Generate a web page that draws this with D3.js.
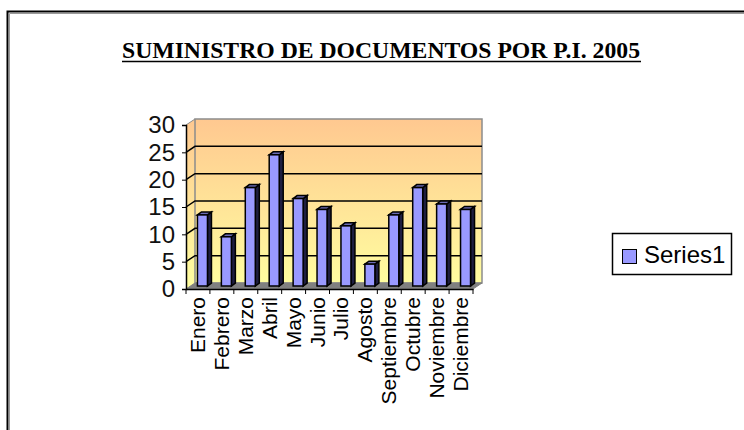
<!DOCTYPE html>
<html>
<head>
<meta charset="utf-8">
<script src="https://cdn.jsdelivr.net/npm/d3@7"></script>
<style>
  body { margin: 0; background: #fff; }
</style>
</head>
<body>
<div id="chart"></div>
<script>
var months = ["Enero", "Febrero", "Marzo", "Abril", "Mayo", "Junio", "Julio",
              "Agosto", "Septiembre", "Octubre", "Noviembre", "Diciembre"]
var series1 = [13, 9, 18, 24, 16, 14, 11, 4, 13, 18, 15, 14]
var yTicks = [0, 5, 10, 15, 20, 25, 30]
var title = "SUMINISTRO DE DOCUMENTOS POR P.I. 2005"
var seriesName = "Series1"

var width = 744, height = 430
var svg = d3.select("#chart").append("svg")
    .attr("width", width)
    .attr("height", height)

// outer chart area border (runs off the right and bottom)
svg.append("rect")
    .attr("x", 7.5).attr("y", 11.5)
    .attr("width", 800).attr("height", 500)
    .attr("fill", "none").attr("stroke", "#000").attr("stroke-width", 2)
svg.append("path")
    .attr("d", "M9.5,500V13.5H800")
    .attr("fill", "none").attr("stroke", "#999")

// title
svg.append("text")
    .attr("x", 381).attr("y", 58)
    .attr("text-anchor", "middle")
    .attr("font-family", "'Liberation Serif', 'Times New Roman', serif")
    .attr("font-weight", "bold")
    .attr("font-size", 23)
    .attr("textLength", 518)
    .attr("lengthAdjust", "spacingAndGlyphs")
    .text(title)
svg.append("line")
    .attr("x1", 122).attr("x2", 641)
    .attr("y1", 61.5).attr("y2", 61.5)
    .attr("stroke", "#000").attr("stroke-width", 1.5)

// scales
var x0 = 186, x1 = 473
var x = d3.scaleBand().domain(months).range([x0, x1])
var y = d3.scaleLinear().domain([0, 30]).range([289, 125])
var dx = 9, dy = -6   // wall depth

var defs = svg.append("defs")
var grad = defs.append("linearGradient")
    .attr("id", "wallGrad")
    .attr("gradientUnits", "userSpaceOnUse")
    .attr("x1", 0).attr("y1", y(30) + dy).attr("x2", 0).attr("y2", y(0))
grad.append("stop").attr("offset", "0%").attr("stop-color", "#ffc890")
grad.append("stop").attr("offset", "100%").attr("stop-color", "#ffffa0")

var g = svg.append("g")

// side wall
g.append("path")
    .attr("d", `M${x0},${y(0)}L${x0},${y(30)}L${x0 + dx},${y(30) + dy}L${x0 + dx},${y(0) + dy}Z`)
    .attr("fill", "url(#wallGrad)")
// back wall
g.append("rect")
    .attr("x", x0 + dx).attr("y", y(30) + dy)
    .attr("width", x1 - x0).attr("height", y(0) - y(30))
    .attr("fill", "url(#wallGrad)")
    .attr("stroke", "#8c8c8c").attr("stroke-width", 1.5)
// gridlines (side + back)
g.selectAll(".grid")
    .data(yTicks.filter(d => d > 0 && d < 30))
    .enter().append("path")
    .attr("class", "grid")
    .attr("d", d => `M${x0},${y(d)}L${x0 + dx},${y(d) + dy}H${x1 + dx}`)
    .attr("fill", "none").attr("stroke", "#000").attr("stroke-width", 1.5)
// wall top edge on side
g.append("line")
    .attr("x1", x0).attr("y1", y(30)).attr("x2", x0 + dx).attr("y2", y(30) + dy)
    .attr("stroke", "#8c8c8c")
// floor
g.append("path")
    .attr("d", `M${x0},${y(0)}L${x1},${y(0)}L${x1 + dx},${y(0) + dy}L${x0 + dx},${y(0) + dy}Z`)
    .attr("fill", "#808080").attr("stroke", "#808080")

// bars
var barW = 10, bd = 4, bdy = -3
var bars = g.selectAll(".bar")
    .data(months.map((m, i) => ({ m: m, v: series1[i] })))
    .enter().append("g")
    .attr("class", "bar")
    .attr("transform", d => `translate(${x(d.m) + x.bandwidth() / 2 + dx / 2 - barW / 2},${dy / 2})`)

bars.append("path") // right side
    .attr("d", d => `M${barW},${y(0)}L${barW},${y(d.v)}L${barW + bd},${y(d.v) + bdy}L${barW + bd},${y(0) + bdy}Z`)
    .attr("fill", "#1e1e40").attr("stroke", "#000").attr("stroke-width", 1.5)
bars.append("path") // top
    .attr("d", d => `M0,${y(d.v)}L${bd},${y(d.v) + bdy}L${barW + bd},${y(d.v) + bdy}L${barW},${y(d.v)}Z`)
    .attr("fill", "#6a6ab5").attr("stroke", "#000").attr("stroke-width", 1.5)
bars.append("rect") // front
    .attr("x", 0).attr("y", d => y(d.v))
    .attr("width", barW).attr("height", d => y(0) - y(d.v))
    .attr("fill", "#9999ff").attr("stroke", "#000").attr("stroke-width", 1.5)

// y axis
var yAxis = svg.append("g")
    .attr("transform", `translate(${x0},0)`)
    .call(d3.axisLeft(y).tickValues(yTicks).tickSize(4).tickPadding(7))
yAxis.select(".domain").attr("stroke", "#000").attr("stroke-width", 1.5)
yAxis.selectAll("text")
    .attr("font-family", "'Liberation Sans', Arial, sans-serif")
    .attr("font-size", 24)
    .attr("fill", "#111")

// x axis
var xAxis = svg.append("g")
    .attr("transform", `translate(0,${y(0)})`)
    .call(d3.axisBottom(x).tickSize(0).tickPadding(0).tickFormat(""))
xAxis.select(".domain").attr("stroke", "#000").attr("stroke-width", 1.5)
xAxis.selectAll(".tick").remove()
xAxis.selectAll(".tk")
    .data(months.concat(["end"]))
    .enter().append("line")
    .attr("class", "tk")
    .attr("x1", (d, i) => x0 + i * x.step()).attr("x2", (d, i) => x0 + i * x.step())
    .attr("y1", 0).attr("y2", 5)
    .attr("stroke", "#000")

svg.append("g").selectAll("text")
    .data(months)
    .enter().append("text")
    .attr("transform", d => `translate(${x(d) + x.bandwidth() / 2 + 7},297) rotate(-90)`)
    .attr("text-anchor", "end")
    .attr("font-family", "'Liberation Sans', Arial, sans-serif")
    .attr("font-size", 21)
    .text(d => d)

// legend
var leg = svg.append("g").attr("transform", "translate(612,233)")
leg.append("rect")
    .attr("x", 0.5).attr("y", 0.5).attr("width", 119).attr("height", 41)
    .attr("fill", "#fff").attr("stroke", "#000").attr("stroke-width", 1.5)
leg.append("rect")
    .attr("x", 10.5).attr("y", 16.5).attr("width", 14).attr("height", 14)
    .attr("fill", "#9999ff").attr("stroke", "#000")
leg.append("text")
    .attr("x", 32).attr("y", 30)
    .attr("font-family", "'Liberation Sans', Arial, sans-serif")
    .attr("font-size", 24)
    .text(seriesName)
</script>
</body>
</html>
